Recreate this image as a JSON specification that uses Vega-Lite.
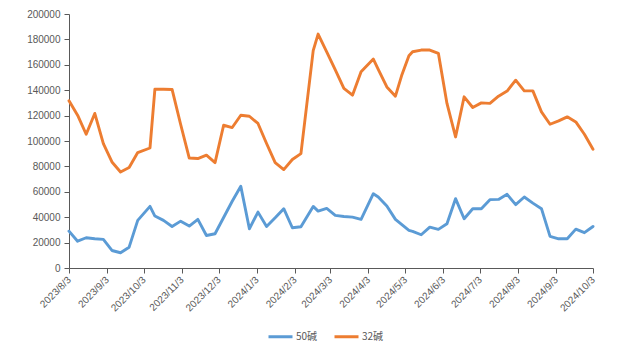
{
  "$schema": "https://vega.github.io/schema/vega-lite/v6.json",
  "width": 524,
  "height": 254,
  "autosize": {"type": "none"},
  "padding": {"left": 69, "top": 14, "right": 43, "bottom": 86},
  "background": "white",
  "config": {"view": {"stroke": null}, "font": "Liberation Sans"},
  "data": {"values": [
    {"date": "2023-08-03", "50碱": 29000, "32碱": 131600},
    {"date": "2023-08-10", "50碱": 21100, "32碱": 120300},
    {"date": "2023-08-17", "50碱": 23800, "32碱": 105300},
    {"date": "2023-08-24", "50碱": 23000, "32碱": 121700},
    {"date": "2023-08-31", "50碱": 22500, "32碱": 98000},
    {"date": "2023-09-07", "50碱": 13800, "32碱": 83500},
    {"date": "2023-09-14", "50碱": 12000, "32碱": 75600},
    {"date": "2023-09-21", "50碱": 16400, "32碱": 79100},
    {"date": "2023-09-28", "50碱": 37500, "32碱": 90900},
    {"date": "2023-10-08", "50碱": 48500, "32碱": 94500},
    {"date": "2023-10-12", "50碱": 40900, "32碱": 140800},
    {"date": "2023-10-19", "50碱": 37500, "32碱": 140700},
    {"date": "2023-10-26", "50碱": 32700, "32碱": 140600},
    {"date": "2023-11-02", "50碱": 36900, "32碱": 113000},
    {"date": "2023-11-09", "50碱": 33000, "32碱": 86600},
    {"date": "2023-11-16", "50碱": 38300, "32碱": 86200},
    {"date": "2023-11-23", "50碱": 25600, "32碱": 88800},
    {"date": "2023-11-30", "50碱": 27000, "32碱": 83000},
    {"date": "2023-12-07", "50碱": 39800, "32碱": 112400},
    {"date": "2023-12-14", "50碱": 52600, "32碱": 110600},
    {"date": "2023-12-21", "50碱": 64300, "32碱": 120300},
    {"date": "2023-12-28", "50碱": 30900, "32碱": 119500},
    {"date": "2024-01-04", "50碱": 44000, "32碱": 113800},
    {"date": "2024-01-11", "50碱": 32700, "32碱": 98000},
    {"date": "2024-01-18", "50碱": 39500, "32碱": 83000},
    {"date": "2024-01-25", "50碱": 46700, "32碱": 77500},
    {"date": "2024-02-01", "50碱": 31700, "32碱": 85400},
    {"date": "2024-02-08", "50碱": 32500, "32碱": 90100},
    {"date": "2024-02-18", "50碱": 48500, "32碱": 171100},
    {"date": "2024-02-22", "50碱": 44800, "32碱": 184200},
    {"date": "2024-02-29", "50碱": 46900, "32碱": 170200},
    {"date": "2024-03-07", "50碱": 41400, "32碱": 156000},
    {"date": "2024-03-14", "50碱": 40600, "32碱": 141400},
    {"date": "2024-03-21", "50碱": 40100, "32碱": 136100},
    {"date": "2024-03-28", "50碱": 38300, "32碱": 154500},
    {"date": "2024-04-07", "50碱": 58500, "32碱": 164500},
    {"date": "2024-04-11", "50碱": 55900, "32碱": 156400},
    {"date": "2024-04-18", "50碱": 48800, "32碱": 142600},
    {"date": "2024-04-25", "50碱": 38300, "32碱": 135300},
    {"date": "2024-04-30", "50碱": 34300, "32碱": 151300},
    {"date": "2024-05-06", "50碱": 29600, "32碱": 167100},
    {"date": "2024-05-09", "50碱": 28900, "32碱": 170300},
    {"date": "2024-05-16", "50碱": 26200, "32碱": 171600},
    {"date": "2024-05-23", "50碱": 32200, "32碱": 171600},
    {"date": "2024-05-30", "50碱": 30400, "32碱": 169000},
    {"date": "2024-06-06", "50碱": 34900, "32碱": 129600},
    {"date": "2024-06-13", "50碱": 54600, "32碱": 103200},
    {"date": "2024-06-20", "50碱": 38800, "32碱": 134800},
    {"date": "2024-06-27", "50碱": 46700, "32碱": 126400},
    {"date": "2024-07-04", "50碱": 46700, "32碱": 130000},
    {"date": "2024-07-11", "50碱": 53800, "32碱": 129600},
    {"date": "2024-07-18", "50碱": 54000, "32碱": 135300},
    {"date": "2024-07-25", "50碱": 58000, "32碱": 139300},
    {"date": "2024-08-01", "50碱": 49900, "32碱": 147900},
    {"date": "2024-08-08", "50碱": 55900, "32碱": 139500},
    {"date": "2024-08-15", "50碱": 51100, "32碱": 139500},
    {"date": "2024-08-22", "50碱": 46700, "32碱": 122900},
    {"date": "2024-08-29", "50碱": 24900, "32碱": 113200},
    {"date": "2024-09-05", "50碱": 23000, "32碱": 115800},
    {"date": "2024-09-12", "50碱": 23000, "32碱": 119000},
    {"date": "2024-09-19", "50碱": 30600, "32碱": 115000},
    {"date": "2024-09-26", "50碱": 27800, "32碱": 105300},
    {"date": "2024-10-03", "50碱": 32700, "32碱": 93500}
  ]},
  "transform": [{"fold": ["50碱", "32碱"], "as": ["series", "value"]}],
  "mark": {"type": "line", "strokeWidth": 2.9, "strokeJoin": "round", "strokeCap": "round"},
  "encoding": {
    "x": {
      "field": "date",
      "type": "temporal",
      "scale": {
        "type": "utc",
        "domain": [{"year": 2023, "month": 8, "date": 3, "utc": true}, {"year": 2024, "month": 10, "date": 3, "utc": true}]
      },
      "axis": {
        "title": null,
        "grid": false,
        "values": [
          {"year": 2023, "month": 8, "date": 3, "utc": true},
          {"year": 2023, "month": 9, "date": 3, "utc": true},
          {"year": 2023, "month": 10, "date": 3, "utc": true},
          {"year": 2023, "month": 11, "date": 3, "utc": true},
          {"year": 2023, "month": 12, "date": 3, "utc": true},
          {"year": 2024, "month": 1, "date": 3, "utc": true},
          {"year": 2024, "month": 2, "date": 3, "utc": true},
          {"year": 2024, "month": 3, "date": 3, "utc": true},
          {"year": 2024, "month": 4, "date": 3, "utc": true},
          {"year": 2024, "month": 5, "date": 3, "utc": true},
          {"year": 2024, "month": 6, "date": 3, "utc": true},
          {"year": 2024, "month": 7, "date": 3, "utc": true},
          {"year": 2024, "month": 8, "date": 3, "utc": true},
          {"year": 2024, "month": 9, "date": 3, "utc": true},
          {"year": 2024, "month": 10, "date": 3, "utc": true}
        ],
        "labelExpr": "utcFormat(datum.value, '%Y/%-m/%-d')",
        "labelAngle": -45,
        "labelAlign": "right",
        "labelBaseline": "middle",
        "labelPadding": 5,
        "labelFontSize": 10,
        "labelColor": "#595959",
        "labelOverlap": false,
        "labelBound": false,
        "labelFlush": false,
        "domainColor": "#595959",
        "domainWidth": 1,
        "tickColor": "#595959",
        "tickSize": 5,
        "tickWidth": 1
      }
    },
    "y": {
      "field": "value",
      "type": "quantitative",
      "scale": {"domain": [0, 200000], "nice": false},
      "axis": {
        "title": null,
        "grid": false,
        "values": [0, 20000, 40000, 60000, 80000, 100000, 120000, 140000, 160000, 180000, 200000],
        "format": "d",
        "labelFontSize": 10,
        "labelColor": "#595959",
        "labelPadding": 4,
        "domainColor": "#595959",
        "domainWidth": 1,
        "tickColor": "#595959",
        "tickSize": 5,
        "tickWidth": 1
      }
    },
    "color": {
      "field": "series",
      "type": "nominal",
      "scale": {"domain": ["50碱", "32碱"], "range": ["#5B9BD5", "#ED7D31"]},
      "legend": {
        "title": null,
        "orient": "none",
        "legendX": 198,
        "legendY": 309,
        "direction": "horizontal",
        "padding": 0,
        "symbolType": "stroke",
        "symbolSize": 576,
        "symbolStrokeWidth": 3,
        "labelFont": "Noto Sans CJK SC",
        "labelFontSize": 10,
        "labelColor": "#595959",
        "labelOffset": 2,
        "columnPadding": 10
      }
    }
  }
}
